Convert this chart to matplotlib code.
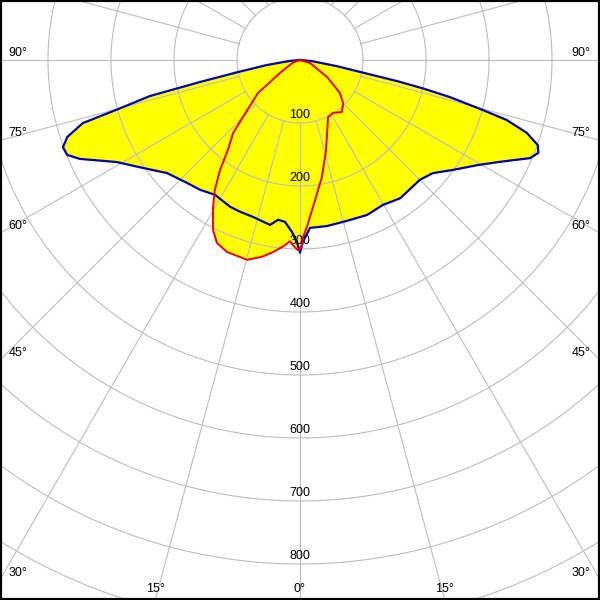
import numpy as np
import matplotlib
matplotlib.use("Agg")
import matplotlib.pyplot as plt

# C0-C180 plane (blue, filled), angles in degrees from nadir, intensity in cd/klm
gamma_blue_left = [0, 0.9, 2.7, 5.3, 7.8, 10.3, 16.7, 21.5, 25.5, 32.2, 37.6, 42.6, 49.6, 56.2,
                   60.9, 65.8, 67.8, 69.8, 71.7, 73.8, 74.9, 76.5, 77.6, 79, 81.4, 85, 90]
int_blue_left = [306, 290, 273, 258, 256, 266, 260, 259, 258, 253, 260, 265, 277, 306,
                 333, 383, 399, 401, 389, 359, 299, 245, 162, 100, 53, 16, 0]
gamma_blue_right = [0, 0.9, 3.4, 9.2, 16.3, 23.4, 29.8, 35.9, 45, 49.6, 54.3, 59.3, 63,
                    66.9, 68.7, 70.3, 72.2, 73.8, 74.7, 76.1, 77.0, 77.7, 78.7, 80.5, 85, 90]
int_blue_right = [306, 289, 267, 267, 266, 268, 265, 271, 269, 277, 299, 327, 356,
                  397, 406, 401, 378, 342, 301, 245, 200, 160, 100, 60, 18, 0]

# C90-C270 plane (red)
gamma_red_left = [0, 0.6, 2.2, 3.2, 4.6, 8, 10.9, 14.8, 20.8, 24.4, 27.1, 30.4, 33.2, 36,
                  38.7, 42.5, 45, 51.8, 57, 70, 90]
int_red_left = [300, 302, 294, 288, 295, 308, 318, 328, 326, 319, 303, 273, 247, 216,
                183, 157, 128, 85, 38, 12, 0]
gamma_red_right = [0, 0.6, 1, 2.4, 6.1, 10.6, 16.1, 26.2, 31.9, 38.9, 45, 50.5, 57.8, 73, 90]
int_red_right = [300, 294, 281, 265, 224, 189, 149, 101, 99, 106, 97, 82, 51, 17, 0]

rings = [100, 200, 300, 400, 500, 600, 700, 800]
side_angles = [90, 75, 60, 45, 30]
bottom_angles = [15, 0]

px = 1 / 0.63  # data units per pixel
FS = 9


def to_xy(g_left, i_left, g_right, i_right):
    th = np.radians(np.concatenate([-np.array(g_left)[::-1], np.array(g_right)]))
    r = np.concatenate([np.array(i_left)[::-1], np.array(i_right)])
    return r * np.sin(th), -r * np.cos(th)


fig = plt.figure(figsize=(6, 6), dpi=100)
ax = fig.add_axes([0, 0, 1, 1])
xmin, xmax = -300 * px, 300 * px
ymin, ymax = -540 * px, 60 * px
ax.set_xlim(xmin, xmax)
ax.set_ylim(ymin, ymax)
ax.set_aspect("equal")
ax.set_xticks([])
ax.set_yticks([])
for s in ax.spines.values():
    s.set_color("black")
    s.set_linewidth(3)

bx, by = to_xy(gamma_blue_left, int_blue_left, gamma_blue_right, int_blue_right)
rx, ry = to_xy(gamma_red_left, int_red_left, gamma_red_right, int_red_right)

ax.fill(bx, by, color="#ffff00", zorder=1, lw=0)
ax.fill(rx, ry, color="#ffff00", zorder=1, lw=0)

# grid
grid_col = "#bdbdbd"
t = np.linspace(0, 2 * np.pi, 720)
for r in range(100, 1100, 100):
    ax.plot(r * np.cos(t), r * np.sin(t), color=grid_col, lw=0.8, zorder=2)
for a in range(0, 360, 15):
    ar = np.radians(a)
    ax.plot([100 * np.sin(ar), 1100 * np.sin(ar)], [-100 * np.cos(ar), -1100 * np.cos(ar)],
            color=grid_col, lw=0.8, zorder=2)

for r in rings:
    ax.annotate(str(r), xy=(0, -r), xytext=(0, 1.5), textcoords="offset points",
                ha="center", va="bottom", fontsize=FS, family="Liberation Sans", zorder=2.5)

ax.plot(bx, by, color="#0000b4", lw=1.6, zorder=3, solid_joinstyle="round")
ax.plot(rx, ry, color="#e60000", lw=1.4, zorder=3, solid_joinstyle="round")

# angle labels at the border
for a in side_angles:
    ar = np.radians(a)
    ty = -(xmax / np.sin(ar)) * np.cos(ar)
    ax.annotate(f"{a}°", xy=(xmin, ty), xytext=(6, 5), textcoords="offset points",
                ha="left", va="center", fontsize=FS, family="Liberation Sans")
    ax.annotate(f"{a}°", xy=(xmax, ty), xytext=(-7, 5), textcoords="offset points",
                ha="right", va="center", fontsize=FS, family="Liberation Sans")
for a in bottom_angles:
    ar = np.radians(a)
    tx = (-ymin / np.cos(ar)) * np.sin(ar)
    for sx in ([-1, 1] if a else [1]):
        ax.annotate(f"{a}°", xy=(sx * tx, ymin), xytext=(0, 8), textcoords="offset points",
                    ha="center", va="center", fontsize=FS, family="Liberation Sans")

fig.savefig("out.png", dpi=100)
